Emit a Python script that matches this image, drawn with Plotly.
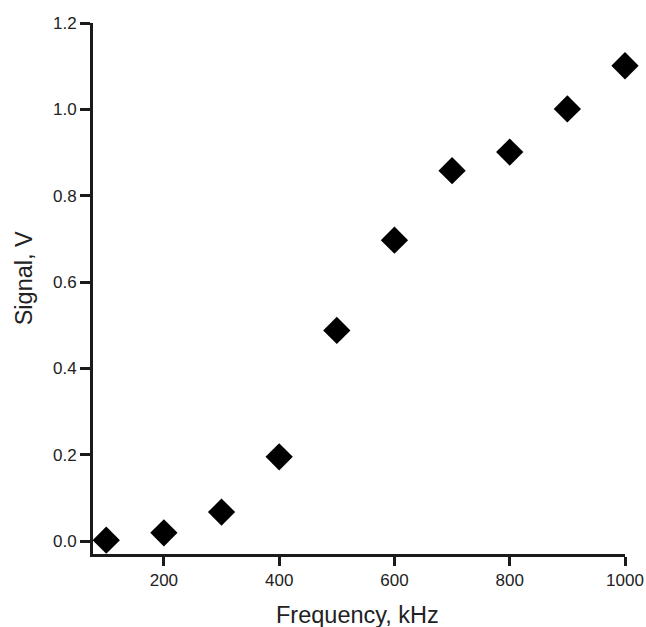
import plotly.graph_objects as go

# frequency sweep data
freq_khz = [100, 200, 300, 400, 500, 600, 700, 800, 900, 1000]
signal_v = [0.002, 0.019, 0.067, 0.195, 0.488, 0.697, 0.858, 0.901, 1.001, 1.101]
x_ticks = [200, 400, 600, 800, 1000]
y_ticks = [0.0, 0.2, 0.4, 0.6, 0.8, 1.0, 1.2]

fig = go.Figure()
fig.add_trace(go.Scatter(x=freq_khz, y=signal_v, mode='markers', cliponaxis=False,
                         marker=dict(symbol='diamond', size=21, color='black',
                                     line=dict(width=0))))

fam = 'Liberation Sans, Arial, sans-serif'
tick_font = dict(family=fam, size=17, color='#222')
title_font = dict(family=fam, size=23.5, color='#222')

fig.update_layout(
    width=646, height=627,
    margin=dict(l=93, r=21, t=23, b=73),
    plot_bgcolor='white', paper_bgcolor='white',
    showlegend=False,
    xaxis=dict(range=[77, 1000], tickvals=x_ticks, ticks='outside', ticklen=9,
               tickwidth=3, tickcolor='#1a1a1a', showline=True, linewidth=3,
               linecolor='#1a1a1a', showgrid=False, zeroline=False,
               tickfont=tick_font, automargin=False),
    yaxis=dict(range=[-0.03, 1.2], tickvals=y_ticks, tickformat='.1f', ticks='outside',
               ticklen=10, tickwidth=3, tickcolor='#1a1a1a', showline=True, linewidth=3,
               linecolor='#1a1a1a', showgrid=False, zeroline=False,
               tickfont=tick_font, automargin=False),
)
fig.add_annotation(text='Frequency, kHz', xref='paper', yref='paper', x=0.498, y=-0.115,
                   xanchor='center', yanchor='middle', showarrow=False, font=title_font)
fig.add_annotation(text='Signal, V', xref='paper', yref='paper', x=-0.128, y=0.519,
                   xanchor='center', yanchor='middle', textangle=-90, showarrow=False,
                   font=title_font)

# drop the default page margin so the figure fills the window
fig.write_html("out.html", config={'displayModeBar': False},
               post_script="document.body.style.margin='0';")
